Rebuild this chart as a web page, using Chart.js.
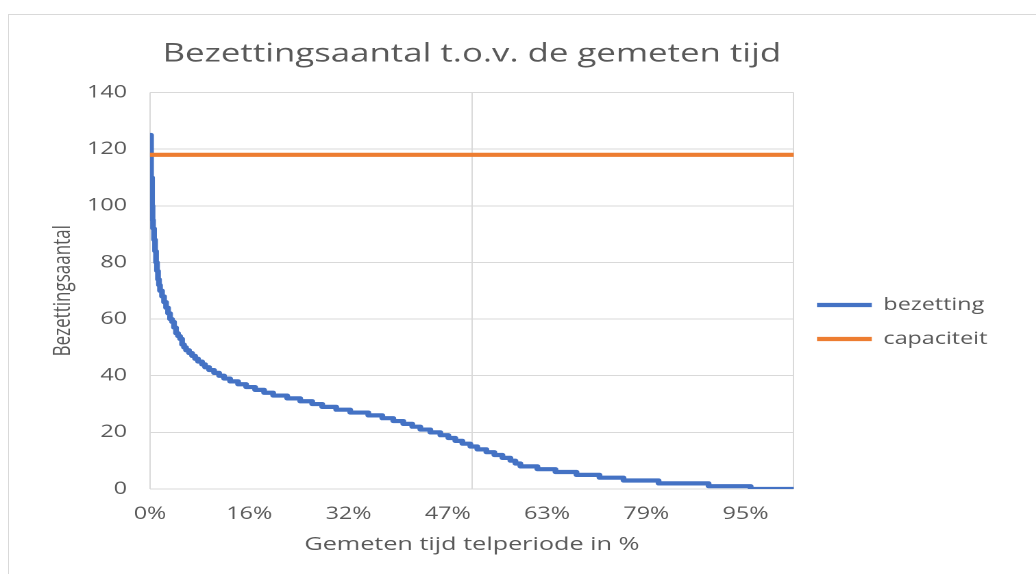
<!DOCTYPE html>
<html lang="nl">
<head>
<meta charset="utf-8">
<title>Bezettingsaantal</title>
<script src="https://cdn.jsdelivr.net/npm/chart.js@4.4.1/dist/chart.umd.min.js"></script>
<style>
  body { margin: 0; background: #fff; overflow: hidden; }
  #frame { position: absolute; left: 8px; top: 14px; width: 1100px; height: 700px; border: 1px solid #d9d9d9; }
  #wrap { position: absolute; left: 0; top: 0; width: 756px; height: 574px; transform: scaleX(1.3704); transform-origin: 0 0; }
</style>
</head>
<body>
<div id="frame"></div>
<div id="wrap"><canvas id="bezetting-chart"></canvas></div>
<script>
// gemeten tijd (% van de telperiode) waarop elk bezettingsniveau begint
const stepStart = [
  0, 0.16, 0.32, 0.40, 0.48, 0.64, 0.80, 0.96, 1.11, 1.27,
  1.43, 1.59, 1.91, 2.23, 2.55, 2.87, 3.19, 3.50, 3.82, 4.14,
  4.46, 4.78, 5.10, 5.41, 5.73, 6.21, 6.69, 7.17, 7.64, 8.28,
  8.76, 9.40, 10.19, 10.99, 11.78, 12.74, 14.01, 15.29, 16.72, 18.15,
  19.59, 21.82, 23.89, 25.80, 27.39, 29.62, 31.85, 34.72, 36.95, 38.70,
  40.29, 41.72, 43.00, 44.59, 46.19, 47.46, 48.57, 49.69, 50.96, 52.07,
  53.51, 54.78, 56.06, 57.33, 58.13, 58.92, 61.63, 64.50, 67.84, 71.50,
  75.33, 80.90, 88.86, 95.55, 102.40
];
const stepValue = [
  125, 110, 100, 95, 92, 88, 84, 80, 77, 74,
  72, 70, 68, 66, 64, 62, 60, 59, 57, 55,
  54, 53, 51, 50, 49, 48, 47, 46, 45, 44,
  43, 42, 41, 40, 39, 38, 37, 36, 35, 34,
  33, 32, 31, 30, 29, 28, 27, 26, 25, 24,
  23, 22, 21, 20, 19, 18, 17, 16, 15, 14,
  13, 12, 11, 10, 9, 8, 7, 6, 5, 4,
  3, 2, 1, 0, 0
];
const capaciteit = 118;
const tijdMax = 102.4;

const tickPos = [0, 15.79, 31.58, 47.37, 63.16, 78.95, 94.74];
const tickLabels = ["0%", "16%", "32%", "47%", "63%", "79%", "95%"];
const verticalGrid = [0, tijdMax / 2, tijdMax];

const textColor = "#595959";
const gridColor = "#d9d9d9";

Chart.defaults.font.family = "'Open Sans', sans-serif";
Chart.defaults.color = textColor;

const bezetting = stepStart.map((x, i) => ({ x: x, y: stepValue[i] }));
const capaciteitLijn = [
  { x: 0, y: capaciteit },
  { x: tijdMax, y: capaciteit },
];

const ctx = document.getElementById("bezetting-chart");
const bezettingChart = new Chart(ctx, {
  type: "line",
  data: {
    datasets: [
      {
        label: "bezetting",
        data: bezetting,
        borderColor: "#4472c4",
        backgroundColor: "#4472c4",
        borderWidth: 4.2,
        borderCapStyle: "round",
        borderJoinStyle: "round",
        stepped: true,
        pointRadius: 0,
        order: 2,
      },
      {
        label: "capaciteit",
        data: capaciteitLijn,
        borderColor: "#ed7d31",
        backgroundColor: "#ed7d31",
        borderWidth: 4.2,
        borderCapStyle: "round",
        pointRadius: 0,
        order: 1,
      },
    ],
  },
  options: {
    responsive: true,
    maintainAspectRatio: false,
    devicePixelRatio: 2,
    animation: false,
    layout: {
      padding: { top: 0, right: 25.5, bottom: 14, left: 0 },
    },
    plugins: {
      title: {
        display: true,
        text: "Bezettingsaantal t.o.v. de gemeten tijd",
        fullSize: false,
        color: textColor,
        font: { size: 25.4, weight: "normal" },
        padding: { top: 39, bottom: 23 },
      },
      legend: {
        position: "right",
        align: "start",
        title: {
          display: true,
          text: "",
          font: { size: 10 },
          padding: { top: 267.5, bottom: 0 },
        },
        labels: {
          usePointStyle: true,
          pointStyle: "line",
          pointStyleWidth: 40,
          padding: 17,
          color: textColor,
          font: { size: 17 },
          sort: (a, b) => a.datasetIndex - b.datasetIndex,
        },
      },
      tooltip: { enabled: false },
    },
    scales: {
      x: {
        type: "linear",
        min: 0,
        max: tijdMax,
        afterBuildTicks: (axis) => {
          const values = [...tickPos, tijdMax / 2, tijdMax].sort((a, b) => a - b);
          axis.ticks = values.map((v) => ({ value: v }));
        },
        ticks: {
          autoSkip: false,
          maxRotation: 0,
          padding: 14.8,
          font: { size: 17 },
          callback: (value) => {
            const i = tickPos.indexOf(value);
            return i >= 0 ? tickLabels[i] : "";
          },
        },
        grid: {
          drawTicks: false,
          color: (c) =>
            c.tick && verticalGrid.includes(c.tick.value) ? gridColor : "rgba(0,0,0,0)",
        },
        border: { display: false },
        title: {
          display: true,
          text: "Gemeten tijd telperiode in %",
          font: { size: 18.4 },
          padding: { top: -5.1, bottom: 4 },
        },
      },
      y: {
        min: 0,
        max: 140,
        ticks: { stepSize: 20, padding: 16.8, font: { size: 17 } },
        grid: { color: gridColor, drawTicks: false },
        border: { display: false },
        title: {
          display: true,
          text: "Bezettingsaantal",
          font: { size: 17 },
          padding: { top: 36, bottom: -9.7 },
        },
      },
    },
  },
});
</script>
</body>
</html>
